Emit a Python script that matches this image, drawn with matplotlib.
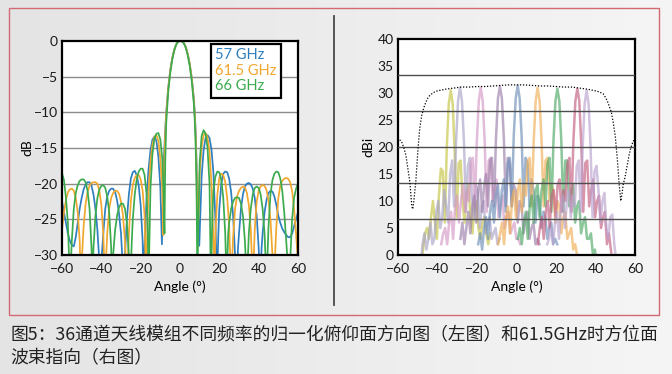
import numpy as np
import matplotlib
matplotlib.use("Agg")
import matplotlib.pyplot as plt
from matplotlib.patches import Rectangle
from matplotlib.lines import Line2D
from matplotlib.colors import LinearSegmentedColormap

# ---------------- data: left chart (normalised elevation pattern, dB) ----------------
PATTERN_57GHZ = [(-60,-22.5),(-59,-24),(-58,-25.5),(-57,-27),(-56,-28),(-55,-28.6),(-54,-28.8),(-53,-27.5),
    (-52,-25.5),(-51,-23.5),(-50,-22),(-49,-20.8),(-48,-20.1),(-47,-19.8),(-46,-19.8),(-45,-20.3),(-44,-21.5),
    (-43,-23.5),(-42,-26.5),(-41,-31),(-40.5,-34),(-40,-31),(-39,-27),(-38,-23.5),(-37,-21.8),(-36,-21),
    (-35,-20.7),(-34,-20.7),(-33,-21.2),(-32,-22.3),(-31,-24.2),(-30,-27),(-29,-32),(-28.6,-34),(-28,-30),
    (-27,-25),(-26,-21.5),(-25,-19.3),(-24,-18.4),(-23,-18.2),(-22,-18.8),(-21,-20.3),(-20,-23),(-19,-28),
    (-18.5,-34),(-18,-29),(-17,-22),(-16,-18),(-15,-15.3),(-14,-13.8),(-13,-13.4),(-12,-14),(-11,-16.2),
    (-10,-20.5),(-9.2,-28.5),(-8.6,-21),(-8.2,-16.5),(-7.5,-12.5),(-7,-10),(-6,-6.6),(-5,-4.2),(-4,-2.5),
    (-3,-1.3),(-2,-0.5),(-1,-0.1),(0,0),(1,-0.05),(2,-0.3),(3,-0.9),(4,-1.9),(5,-3.3),(6,-5.2),(7,-8),
    (7.5,-10),(8,-13),(8.6,-19),(9.2,-24),(9.8,-28.7),(10.5,-23),(11,-19),(12,-15.3),(13,-13.6),(14,-13.2),
    (15,-13.6),(16,-15.2),(17,-18.5),(18,-25),(18.8,-34),(19.5,-27),(20,-23.5),(21,-20),(22,-18.6),(23,-18.3),
    (24,-18.4),(25,-19.3),(26,-21.2),(27,-24.5),(28,-30),(28.8,-34),(29.5,-29),(30,-27),(31,-23.5),(32,-21.5),
    (33,-20.4),(34,-20),(35,-19.9),(36,-20.1),(37,-20.7),(38,-22),(39,-24.5),(40,-29),(40.8,-34),(41.5,-29),
    (42,-27),(43,-24),(44,-22.3),(45,-21.3),(46,-21),(47,-21.1),(48,-21.8),(49,-23),(50,-24.5),(51,-25.5),
    (52,-26.3),(53,-26.8),(54,-27.2),(55,-27.5),(56,-27.5),(57,-27),(58,-26),(59,-25),(60,-24)]

PATTERN_615GHZ = [(-60,-26.5),(-59,-24),(-58,-22.3),(-57,-21.2),(-56,-20.8),(-55,-20.7),(-54,-21),(-53,-22),
    (-52,-24),(-51,-28),(-50.5,-34),(-50,-31),(-49,-26),(-48,-22.8),(-47,-21.2),(-46,-20.3),(-45,-19.9),
    (-44,-19.8),(-43,-19.8),(-42,-20),(-41,-21),(-40,-23),(-39,-27),(-38.2,-34),(-37.5,-30),(-37,-27),
    (-36,-23.5),(-35,-22),(-34,-21.3),(-33,-21),(-32,-21),(-31,-21.4),(-30,-22.5),(-29,-24.5),(-28,-28),
    (-27,-34),(-26,-27),(-25,-22.5),(-24,-20.2),(-23,-19.2),(-22,-18.8),(-21,-18.8),(-20,-19.4),(-19,-21),
    (-18,-24.5),(-17.3,-34),(-16.5,-25),(-16,-21),(-15,-16.8),(-14,-14.5),(-13,-13.4),(-12,-13.2),(-11,-14),
    (-10,-16.5),(-9,-21),(-8.5,-27.2),(-8.1,-18),(-7.5,-13),(-7,-10.2),(-6,-6.7),(-5,-4.3),(-4,-2.5),
    (-3,-1.3),(-2,-0.5),(-1,-0.1),(0,0),(1,-0.05),(2,-0.3),(3,-0.9),(4,-1.9),(5,-3.3),(6,-5.3),(7,-8.2),
    (7.5,-10.3),(8,-13.5),(8.5,-19),(9,-27),(9.5,-24),(10,-18.5),(11,-14.8),(12,-13.2),(13,-12.9),(14,-13.5),
    (15,-15.5),(16,-20),(17,-28),(17.4,-34),(18,-27),(19,-21.5),(20,-19.2),(21,-18.6),(22,-18.8),(23,-19.8),
    (24,-22),(25,-26),(26,-34),(27,-27.5),(28,-23.5),(29,-21.8),(30,-21),(31,-20.6),(32,-20.4),(33,-20.5),
    (34,-21.3),(35,-23),(36,-26.5),(37,-34),(38,-26.5),(39,-22.5),(40,-21),(41,-20.4),(42,-20.2),(43,-20.3),
    (44,-20.9),(45,-22.3),(46,-25),(47,-30),(47.8,-34),(48.5,-29),(49,-26),(50,-22),(51,-20.3),(52,-19.6),
    (53,-19.3),(54,-19.2),(55,-19.3),(56,-19.8),(57,-21),(58,-23.5),(59,-27),(60,-31)]

PATTERN_66GHZ = [(-60,-18.5),(-59,-19.5),(-58,-22),(-57,-25.5),(-56,-34),(-55,-28),(-54,-23.5),(-53,-21.3),
    (-52,-20.2),(-51,-19.6),(-50,-19.4),(-49,-19.4),(-48,-19.8),(-47,-21),(-46,-23.5),(-45,-29),(-44.5,-34),
    (-44,-29),(-43,-24.5),(-42,-22),(-41,-20.8),(-40,-20.3),(-39,-20.2),(-38,-20.6),(-37,-21.8),(-36,-24),
    (-35,-29),(-34.5,-34),(-34,-30),(-33,-26.5),(-32,-24.5),(-31,-23.3),(-30,-22.8),(-29,-22.8),(-28,-23.5),
    (-27,-25.5),(-26,-30),(-25.3,-34),(-24.5,-28),(-24,-25),(-23,-21.5),(-22,-19.4),(-21,-18.3),(-20,-17.9),
    (-19,-17.9),(-18,-18.8),(-17,-21.5),(-16.5,-25),(-16,-34),(-15.3,-24),(-15,-20.5),(-14,-15.8),(-13,-13.7),
    (-12,-13),(-11,-12.9),(-10,-13.8),(-9,-16.5),(-8.5,-20),(-7.9,-27),(-7.5,-17),(-7,-11.5),(-6,-7.2),
    (-5,-4.6),(-4,-2.7),(-3,-1.4),(-2,-0.55),(-1,-0.12),(0,0),(1,-0.05),(2,-0.35),(3,-1.0),(4,-2.1),(5,-3.6),
    (6,-5.7),(7,-8.7),(7.5,-11.2),(8,-15),(8.5,-23),(8.8,-34),(9.3,-26),(10,-17),(11,-13.3),(12,-12.5),(13,-13),
    (14,-15),(15,-20),(15.7,-34),(16.5,-24),(17,-21),(18,-19),(19,-18.3),(20,-18.4),(21,-19.5),(22,-22),
    (23,-27),(23.7,-34),(24.5,-27),(25,-25.5),(26,-23.5),(27,-22.5),(28,-22),(29,-21.9),(30,-22),(31,-22.8),
    (32,-24.5),(33,-28),(34,-34),(35,-27),(36,-23.5),(37,-21.5),(38,-20.6),(39,-20.4),(40,-20.6),(41,-21.5),
    (42,-23.5),(43,-27),(44,-34),(45,-26),(46,-21.5),(47,-19.5),(48,-18.6),(49,-18.3),(50,-18.4),(51,-19.3),
    (52,-21),(53,-24),(54,-28),(55.5,-34),(57,-25),(58,-22),(59,-20.7),(60,-20)]

LEFT_LABELS = ["57 GHz", "61.5 GHz", "66 GHz"]
LEFT_COLORS = ["#2f7fbf", "#f2a72e", "#3cab4e"]

# ---------------- data: right chart (azimuth beam steering, dBi) ----------------
ENVELOPE = [(-60,21.8),(-59,21.3),(-58,20.8),(-57,19.8),(-56,18.5),(-55,16),(-54,13.5),(-53,9),(-52.5,8.5),
    (-52,10),(-51,13.5),(-50,19),(-49,23.5),(-48,25.8),(-47,27.2),(-46,28.2),(-45,29),(-44,29.5),(-42,30.1),
    (-40,30.4),(-36,30.7),(-32,30.9),(-28,31.1),(-24,31.1),(-20,31.2),(-16,31.2),(-12,31.3),(-8,31.4),
    (-4,31.5),(0,31.5),(4,31.5),(8,31.4),(12,31.3),(16,31.3),(20,31.2),(24,31.1),(28,31.1),(32,30.9),
    (36,30.7),(40,30.4),(42,30.2),(44,29.8),(45,29.2),(46,28.5),(47,27.5),(48,26.5),(49,24.5),(50,22),
    (51,18),(52,13),(52.8,10),(53.5,11.5),(54,13),(55,14.5),(56,16.5),(57,18.5),(58,20),(59,21),(60,21.5)]

# beam start angles (first sample), samples every 1 degree
BEAM_START = [-53.3, -48.6, -38.1, -28.4, -19.4, -9.3, 0.7, 10.8, 15.5]
BEAM_COLORS = ["#c6c443", "#a9a3c9", "#d598c6", "#9c7fa9", "#6d8fb8", "#efae55", "#4ea866", "#c25e80", "#b9a3cf"]
BEAM_1 = [-5,-5,-4,-3,-1,-2,1,4,5,3,7,10,6,3,11,16,15.5,6,20,28,30.5,28,19,7,17,17.5,10,6,12,13,7,4,9,10,5,3,6,7,4,2,4]
BEAM_2 = [-3,2,4,1,3,6,2,3,8,10,5,7,12,9,6,15,17.5,9,21,28.5,31,28.5,21,8,16.5,18,11,7,13,12,5,9,10,4,6,7,3,4,5,2,3]
BEAM_3 = [2,4,5,2,6,8,3,9,11,6,10,13,8,12,10,17,18,9,21,28.5,31,28.5,21,8,17.5,18,10,12,14,7,9,11,5,7,8,4,5,6,3,3,2]
BEAM_4 = [3,6,2,5,8,4,9,11,6,12,14,8,13,15,9,17.5,18,9,21.5,29,31.2,29,21.5,9,18,17,9,13,12,6,10,9,4,7,8,3,5,6,2,3,2]
BEAM_5 = [2,4,1,5,7,3,8,10,6,11,13,7,12,14,8,17,18,9,22,29,31.4,29,22,9,18,17,9,14,12,6,11,10,5,8,7,3,5,6,2,3,2]
BEAM_6 = [2,4,6,2,7,9,4,10,12,7,12,14,8,13,11,17.5,18,9,21,28.5,31,28.5,21,9,17.5,18,10,13,12,6,10,9,4,7,8,3,4,5,1,2,0]
BEAM_7 = [3,5,2,6,8,3,9,11,6,12,13,7,12,14,9,17,18,8,21,28.5,30.8,28.5,21,8,17.5,17.5,9,12,13,6,9,10,4,6,7,3,3,4,0,1,-2]
BEAM_8 = [2,5,7,3,8,10,5,11,12,7,13,14,8,12,10,17,18,8,21,28.5,30.8,28.5,20.5,8,17,17.5,9,12,14,7,10,11,5,7,8,2,4,1,-2,-3,-4]
BEAM_9 = [2,3,5,2,6,8,3,9,11,5,10,12,7,11,9,16.5,17.5,8,20,28,30.5,28,20,7,15.5,16.5,12,6,10,11.5,5,3,7,7.5,2,-1,-3,-4,-5,-5,-5]
BEAMS = [BEAM_1, BEAM_2, BEAM_3, BEAM_4, BEAM_5, BEAM_6, BEAM_7, BEAM_8, BEAM_9]

X_TICKS = [-60, -40, -20, 0, 20, 40, 60]
LEFT_Y_TICKS = [0, -5, -10, -15, -20, -25, -30]
RIGHT_Y_TICKS = [0, 5, 10, 15, 20, 25, 30, 35, 40]

CAPTION_1 = "图5：36通道天线模组不同频率的归一化俯仰面方向图（左图）和61.5GHz时方位面"
CAPTION_2 = "波束指向（右图）"

# ---------------- figure ----------------
plt.rcParams['font.family'] = ['Lato', 'DejaVu Sans']
W, H = 672, 374
fig = plt.figure(figsize=(W/100, H/100), dpi=100)

# background gradient
bg = fig.add_axes([0, 0, 1, 1], zorder=-10)
grad = np.linspace(0, 1, 256)[None, :]
cmap = LinearSegmentedColormap.from_list("bg", ["#e4e4e4", "#f5f5f5"])
bg.imshow(grad, aspect='auto', cmap=cmap, extent=[0, 1, 0, 1])
bg.set_xlim(0, 1); bg.set_ylim(0, 1)
bg.axis('off')

# red frame and divider
fig.patches.append(Rectangle((9/W, 1-315/H), (659-9)/W, (315-8)/H, transform=fig.transFigure,
                             fill=False, edgecolor="#d26a74", lw=1.0, zorder=0))
fig.lines.append(Line2D([334/W, 334/W], [1-305/H, 1-16/H], transform=fig.transFigure,
                        color="#4a4a4a", lw=1.3))

def px_axes(l, r, t, b):
    return [l/W, 1-b/H, (r-l)/W, (b-t)/H]

def fmt(t):
    return f"{t}".replace("-", "\u2212")

# ---- left chart ----
ax1 = fig.add_axes(px_axes(62, 298, 41, 255))
ax1.set_facecolor("white")
for yv in LEFT_Y_TICKS[1:-1]:
    ax1.axhline(yv, color="#8c8c8c", lw=1.0, zorder=1)
handles = []
for data, lab, col in zip([PATTERN_57GHZ, PATTERN_615GHZ, PATTERN_66GHZ], LEFT_LABELS, LEFT_COLORS):
    a, v = zip(*data)
    h, = ax1.plot(a, v, color=col, lw=1.25, label=lab, zorder=2)
    handles.append(h)
ax1.set_xlim(-60, 60)
ax1.set_ylim(-30, 0)
ax1.set_xticks(X_TICKS)
ax1.set_xticklabels([fmt(t) for t in X_TICKS])
ax1.set_yticks(LEFT_Y_TICKS)
ax1.set_yticklabels([fmt(t) for t in LEFT_Y_TICKS])
ax1.set_xlabel("Angle (°)", fontsize=10, labelpad=4)
ax1.set_ylabel("dB", fontsize=10, labelpad=0)
leg = ax1.legend(handles=handles, loc="upper right", bbox_to_anchor=(0.928, 0.988),
                 handlelength=0, handletextpad=0, labelcolor="linecolor", fontsize=10.5,
                 frameon=True, fancybox=False, borderpad=0.3, labelspacing=0.12, borderaxespad=0)
for h in leg.legend_handles:
    h.set_visible(False)
leg.get_frame().set_edgecolor("black")
leg.get_frame().set_linewidth(1.6)
leg.get_frame().set_alpha(1)

# ---- right chart ----
ax2 = fig.add_axes(px_axes(398, 635, 39, 255))
ax2.set_facecolor("white")
for k in range(1, 6):
    ax2.axhline(40*k/6, color="#4d4d4d", lw=1.0, zorder=4)
for start, vals, col in zip(BEAM_START, BEAMS, BEAM_COLORS):
    xs = start + np.arange(len(vals))
    ax2.plot(xs, vals, color=col, lw=1.8, alpha=0.65, zorder=2)
ea, ev = zip(*ENVELOPE)
ax2.plot(ea, ev, color="black", lw=0.9, linestyle=(0, (1, 1.4)), zorder=5)
ax2.set_xlim(-60, 60)
ax2.set_ylim(0, 40)
ax2.set_xticks(X_TICKS)
ax2.set_xticklabels([fmt(t) for t in X_TICKS])
ax2.set_yticks(RIGHT_Y_TICKS)
ax2.set_xlabel("Angle (°)", fontsize=10, labelpad=4)
ax2.set_ylabel("dBi", fontsize=10, labelpad=2)

for ax in (ax1, ax2):
    for s in ax.spines.values():
        s.set_linewidth(1.6)
        s.set_color("black")
    ax.tick_params(length=0, labelsize=10, colors="#1a1a1a")
    ax.tick_params(axis="x", pad=6)
    ax.tick_params(axis="y", pad=3)

# caption
cap_font = ['Noto Sans CJK SC', 'DejaVu Sans']
fig.text(10/W, 1-335/H, CAPTION_1, family=cap_font, fontsize=12.8, color="#222222", va="center", ha="left")
fig.text(10/W, 1-358/H, CAPTION_2, family=cap_font, fontsize=12.8, color="#222222", va="center", ha="left")

fig.savefig("out.png", dpi=100)
